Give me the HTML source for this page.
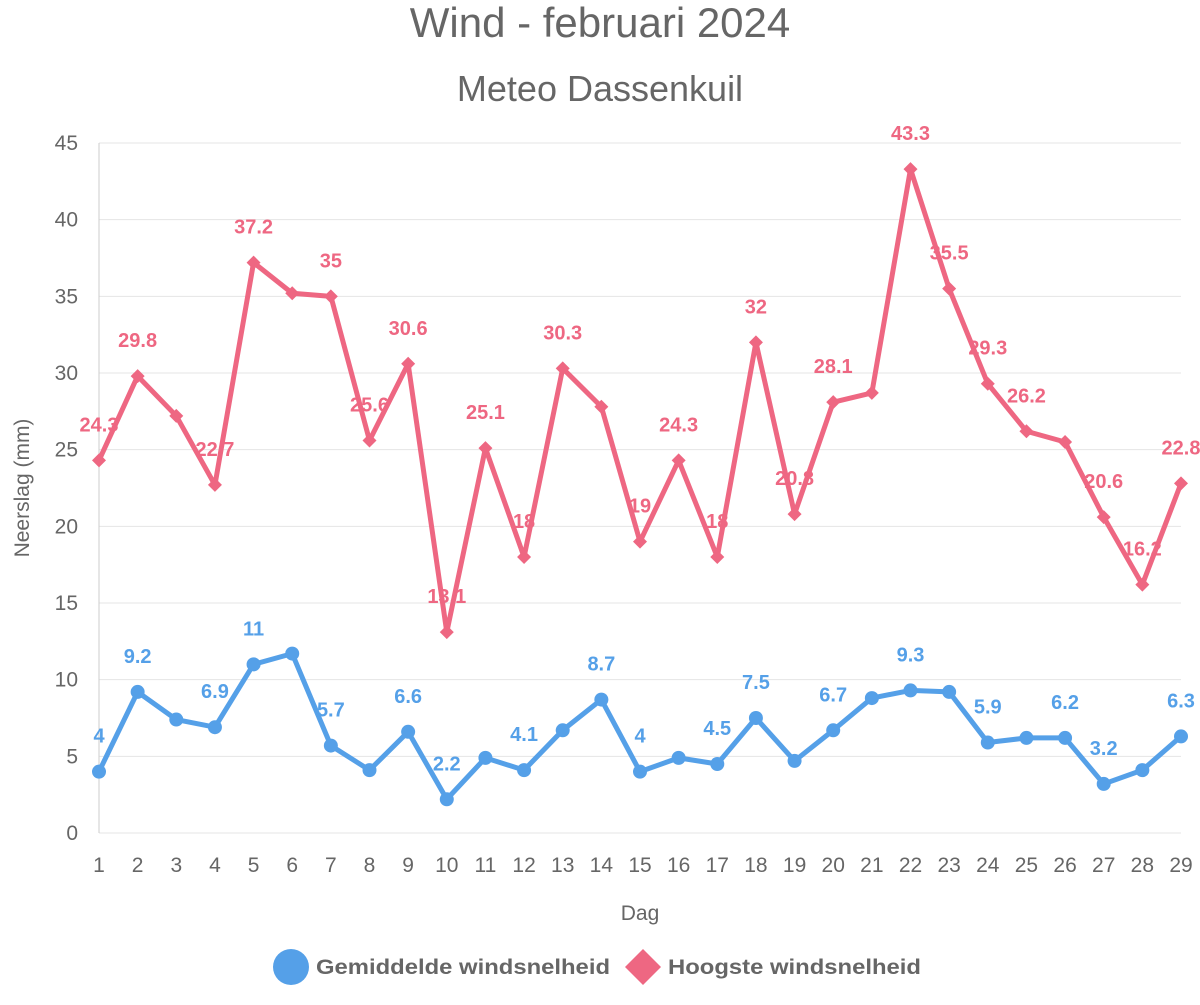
<!DOCTYPE html>
<html><head><meta charset="utf-8"><style>
body{margin:0;background:#fff;font-family:"Liberation Sans",Arial,sans-serif}
svg text{font-family:"Liberation Sans",Arial,sans-serif}
</style></head><body>
<svg width="1200" height="1000" id="c">
<text x="600" y="37" text-anchor="middle" font-size="42" fill="#666">Wind - februari 2024</text>
<text x="600" y="101" text-anchor="middle" font-size="36" fill="#666">Meteo Dassenkuil</text>
<text transform="translate(29,488) rotate(-90)" text-anchor="middle" font-size="21" fill="#666">Neerslag (mm)</text>
<text x="640" y="920" text-anchor="middle" font-size="21" fill="#666">Dag</text>
<g id="grid"></g><g id="series"></g>
<g>
<g><circle cx="291" cy="967" r="18" fill="#55a0e8"/><text x="316" y="974" font-size="21" font-weight="bold" fill="#666" textLength="294" lengthAdjust="spacingAndGlyphs">Gemiddelde windsnelheid</text></g>
<g><polygon points="643,949 661,967 643,985 625,967" fill="#ee6782"/><text x="668" y="974" font-size="21" font-weight="bold" fill="#666" textLength="253" lengthAdjust="spacingAndGlyphs">Hoogste windsnelheid</text></g>
</g>
</svg>
<script>
const days=[1,2,3,4,5,6,7,8,9,10,11,12,13,14,15,16,17,18,19,20,21,22,23,24,25,26,27,28,29];
const yTicks=[0,5,10,15,20,25,30,35,40,45];
const hoogste=[24.3,29.8,27.2,22.7,37.2,35.2,35,25.6,30.6,13.1,25.1,18,30.3,27.8,19,24.3,18,32,20.8,28.1,28.7,43.3,35.5,29.3,26.2,25.5,20.6,16.2,22.8];
const hoogsteLabel=[1,1,0,1,1,0,1,1,1,1,1,1,1,0,1,1,1,1,1,1,0,1,1,1,1,0,1,1,1];
const gemiddelde=[4,9.2,7.4,6.9,11,11.7,5.7,4.1,6.6,2.2,4.9,4.1,6.7,8.7,4,4.9,4.5,7.5,4.7,6.7,8.8,9.3,9.2,5.9,6.2,6.2,3.2,4.1,6.3];
const gemLabel=[1,1,0,1,1,0,1,0,1,1,0,1,0,1,1,0,1,1,0,1,0,1,0,1,0,1,1,0,1];
const NS="http://www.w3.org/2000/svg";
const X=i=>99+i*(1181-99)/(days.length-1);
const Y=v=>833-v*(833-143)/45;
function el(t,a,p){const e=document.createElementNS(NS,t);for(const k in a)e.setAttribute(k,a[k]);p.appendChild(e);return e;}
const g=document.getElementById('grid'),s=document.getElementById('series');
yTicks.forEach(v=>{
 const l=el('line',{x1:99,x2:1181,y1:Y(v),y2:Y(v),stroke:'#e4e4e4','stroke-width':1},g);
 
 
 const t=el('text',{x:78,y:Y(v)+7,'text-anchor':'end','font-size':21,fill:'#666'},g);t.textContent=v;
 
 
});
el('line',{x1:99,x2:99,y1:143,y2:833,stroke:'#ccc'},g);
days.forEach((d,i)=>{
 const t=el('text',{x:X(i),y:872,'text-anchor':'middle','font-size':21,fill:'#666'},g);t.textContent=d;
 
 
});
function series(vals,lbls,col,diamond,name){
 const p=el('polyline',{points:vals.map((v,i)=>X(i)+','+Y(v)).join(' '),fill:'none',stroke:col,'stroke-width':5,'stroke-linejoin':'round'},s);
 
 
 vals.forEach((v,i)=>{
  const x=X(i),y=Y(v);let m;
  if(diamond)m=el('polygon',{points:`${x},${y-7} ${x+7},${y} ${x},${y+7} ${x-7},${y}`,fill:col},s);
  else m=el('circle',{cx:x,cy:y,r:7,fill:col},s);
  
  
  if(lbls[i]){const t=el('text',{x:x,y:y-29,'text-anchor':'middle','font-size':20,'font-weight':'bold',fill:col},s);t.textContent=v;
  
  }
 });
}
series(hoogste,hoogsteLabel,'#ee6782',true,'hoogste');
series(gemiddelde,gemLabel,'#55a0e8',false,'gemiddelde');
</script>
</body></html>
